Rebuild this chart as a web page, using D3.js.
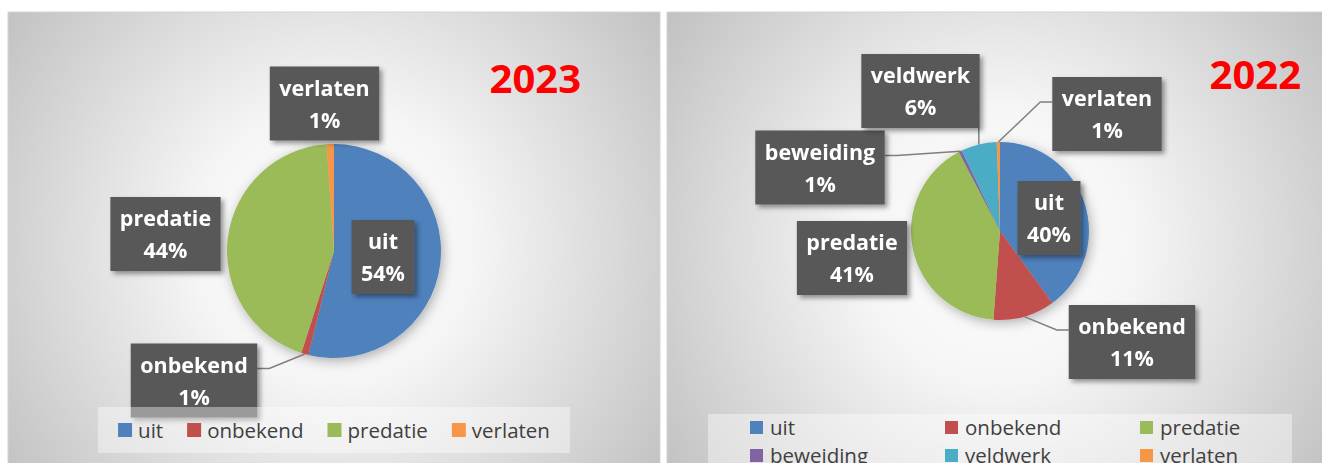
<!DOCTYPE html>
<html>
<head>
<meta charset="utf-8">
<script src="https://cdn.jsdelivr.net/npm/d3@7"></script>
<style>
  body { margin: 0; background: #fff; }
  svg { display: block; font-family: "Open Sans", sans-serif; }
</style>
</head>
<body>
<svg id="chart" width="1322" height="463"></svg>
<script>
// 2023 nest outcomes
const cats2023 = ["uit", "onbekend", "predatie", "verlaten"];
const vals2023 = [49, 1, 40, 1];

// 2022 nest outcomes
const cats2022 = ["uit", "onbekend", "predatie", "beweiding", "veldwerk", "verlaten"];
const vals2022 = [68, 19, 70, 1, 11, 1];

const colour = d3.scaleOrdinal()
  .domain(["uit", "onbekend", "predatie", "beweiding", "veldwerk", "verlaten"])
  .range(["#4f81bd", "#c0504d", "#9bbb59", "#8064a2", "#4bacc6", "#f79646"]);

const fmt = d3.format(".0%");
const svg = d3.select("#chart");
const defs = svg.append("defs");

defs.append("filter").attr("id", "boxShadow")
    .attr("x", "-20%").attr("y", "-20%").attr("width", "150%").attr("height", "150%")
  .append("feDropShadow")
    .attr("dx", 3).attr("dy", 3).attr("stdDeviation", 2.5)
    .attr("flood-color", "#000").attr("flood-opacity", 0.4);

defs.append("filter").attr("id", "pieShadow")
    .attr("x", "-30%").attr("y", "-30%").attr("width", "160%").attr("height", "160%")
  .append("feDropShadow")
    .attr("dx", 2).attr("dy", 3).attr("stdDeviation", 6)
    .attr("flood-color", "#000").attr("flood-opacity", 0.3);

function panel(cats, vals, opt) {
  const g = svg.append("g");

  // background with radial gradient
  const gradId = "bg" + opt.title;
  const grad = defs.append("radialGradient").attr("id", gradId)
      .attr("gradientUnits", "userSpaceOnUse")
      .attr("cx", (opt.x0 + opt.x1) / 2).attr("cy", 245).attr("r", 400);
  grad.append("stop").attr("offset", "0%").attr("stop-color", "#ffffff");
  grad.append("stop").attr("offset", "35%").attr("stop-color", "#f5f5f5");
  grad.append("stop").attr("offset", "100%").attr("stop-color", "#c2c2c2");
  g.append("rect")
      .attr("x", opt.x0).attr("y", 12)
      .attr("width", opt.x1 - opt.x0).attr("height", 480)
      .attr("fill", "url(#" + gradId + ")")
      .attr("stroke", "#d4d4d4");

  const data = cats.map((c, i) => ({cat: c, value: vals[i]}));
  const total = d3.sum(vals);
  const arcs = d3.pie().sort(null).value(d => d.value)(data);
  const arc = d3.arc().innerRadius(0).outerRadius(opt.r);

  const pg = g.append("g").attr("transform", "translate(" + opt.cx + "," + opt.cy + ")");
  pg.append("g").attr("filter", "url(#pieShadow)")
    .selectAll("path")
    .data(arcs)
    .join("path")
      .attr("d", arc)
      .attr("fill", d => colour(d.data.cat));

  const leaderG = g.append("g");
  const labelG = g.append("g");

  arcs.forEach(function(d) {
    const off = opt.labels[d.data.cat];
    const bx = opt.cx + off[0], by = opt.cy + off[1];
    const lg = labelG.append("g").attr("filter", "url(#boxShadow)");
    const t1 = lg.append("text").attr("x", bx).attr("y", by - 37 + 29)
        .attr("text-anchor", "middle").attr("fill", "#fff")
        .style("font-size", "21.5px").style("font-weight", "bold")
        .text(d.data.cat);
    const t2 = lg.append("text").attr("x", bx).attr("y", by - 37 + 61)
        .attr("text-anchor", "middle").attr("fill", "#fff")
        .style("font-size", "21.5px").style("font-weight", "bold")
        .text(fmt(d.data.value / total));
    const w = Math.max(t1.node().getComputedTextLength(), t2.node().getComputedTextLength()) + 19;
    const box = {x0: bx - w / 2, x1: bx + w / 2, y0: by - 37, y1: by + 37};
    lg.insert("rect", "text")
        .attr("x", box.x0).attr("y", box.y0)
        .attr("width", w).attr("height", 74)
        .attr("fill", "#595959");

    if (opt.leaders.indexOf(d.data.cat) < 0) return;
    // point on the slice edge at mid angle
    const a = (d.startAngle + d.endAngle) / 2;
    const px = opt.cx + opt.r * Math.sin(a), py = opt.cy - opt.r * Math.cos(a);
    let pts;
    if (px > box.x0 && px < box.x1 && py > box.y1) {
      pts = [[px, box.y1], [px, py]];
    } else {
      const ex = px > box.x1 ? box.x1 : box.x0;
      const elbow = px > box.x1 ? ex + 12 : ex - 12;
      pts = [[ex, box.y0 + 25], [elbow, box.y0 + 25], [px, py]];
    }
    leaderG.append("path")
        .attr("d", d3.line()(pts))
        .attr("fill", "none")
        .attr("stroke", "#7f7f7f")
        .attr("stroke-width", 1.5);
  });

  // legend
  const L = opt.legend;
  const leg = g.append("g");
  leg.append("rect")
      .attr("x", L.x0).attr("y", L.y0)
      .attr("width", L.x1 - L.x0).attr("height", L.y1 - L.y0)
      .attr("fill", "#fff").attr("fill-opacity", 0.4);

  const items = leg.selectAll("g.item").data(cats).join("g").attr("class", "item");
  items.append("rect")
      .attr("width", L.sq).attr("height", L.sq)
      .attr("fill", d => colour(d));
  items.append("text")
      .attr("x", 20).attr("y", L.sq + 1)
      .attr("fill", "#404040")
      .style("font-size", "20.5px")
      .text(d => d);

  if (L.cols) {
    items.attr("transform", (d, i) =>
      "translate(" + (L.startX + (i % L.cols) * L.colW) + "," + (L.top + Math.floor(i / L.cols) * L.rowH) + ")");
  } else {
    const widths = items.nodes().map(n => 20 + d3.select(n).select("text").node().getComputedTextLength());
    const full = d3.sum(widths) + L.gap * (widths.length - 1);
    let x = (L.x0 + L.x1) / 2 - full / 2;
    items.attr("transform", (d, i) => {
      const t = "translate(" + x + "," + L.top + ")";
      x += widths[i] + L.gap;
      return t;
    });
  }

  g.append("text")
      .attr("x", opt.titleX).attr("y", opt.titleY)
      .attr("text-anchor", "end")
      .attr("fill", "#ff0000")
      .style("font-size", "40px").style("font-weight", "bold")
      .text(opt.title);
}

panel(cats2023, vals2023, {
  title: "2023", titleX: 581, titleY: 93,
  x0: 8, x1: 660, cx: 334, cy: 251, r: 107,
  labels: {uit: [49, 6], onbekend: [-140, 129.5], predatie: [-168.5, -17], verlaten: [-9.5, -147.5]},
  leaders: ["onbekend"],
  legend: {x0: 98, x1: 570, y0: 407, y1: 453, sq: 14, top: 423, gap: 24}
});

panel(cats2022, vals2022, {
  title: "2022", titleX: 1301, titleY: 89,
  x0: 667, x1: 1330, cx: 1000, cy: 231, r: 89,
  labels: {uit: [49, -13], onbekend: [132, 111], predatie: [-148, 27],
           beweiding: [-180, -63.5], veldwerk: [-79.5, -140], verlaten: [107, -117]},
  leaders: ["onbekend", "beweiding", "veldwerk", "verlaten"],
  legend: {x0: 708, x1: 1292, y0: 414, y1: 490, sq: 13, top: 421, cols: 3, startX: 750, colW: 195, rowH: 28}
});
</script>
</body>
</html>
